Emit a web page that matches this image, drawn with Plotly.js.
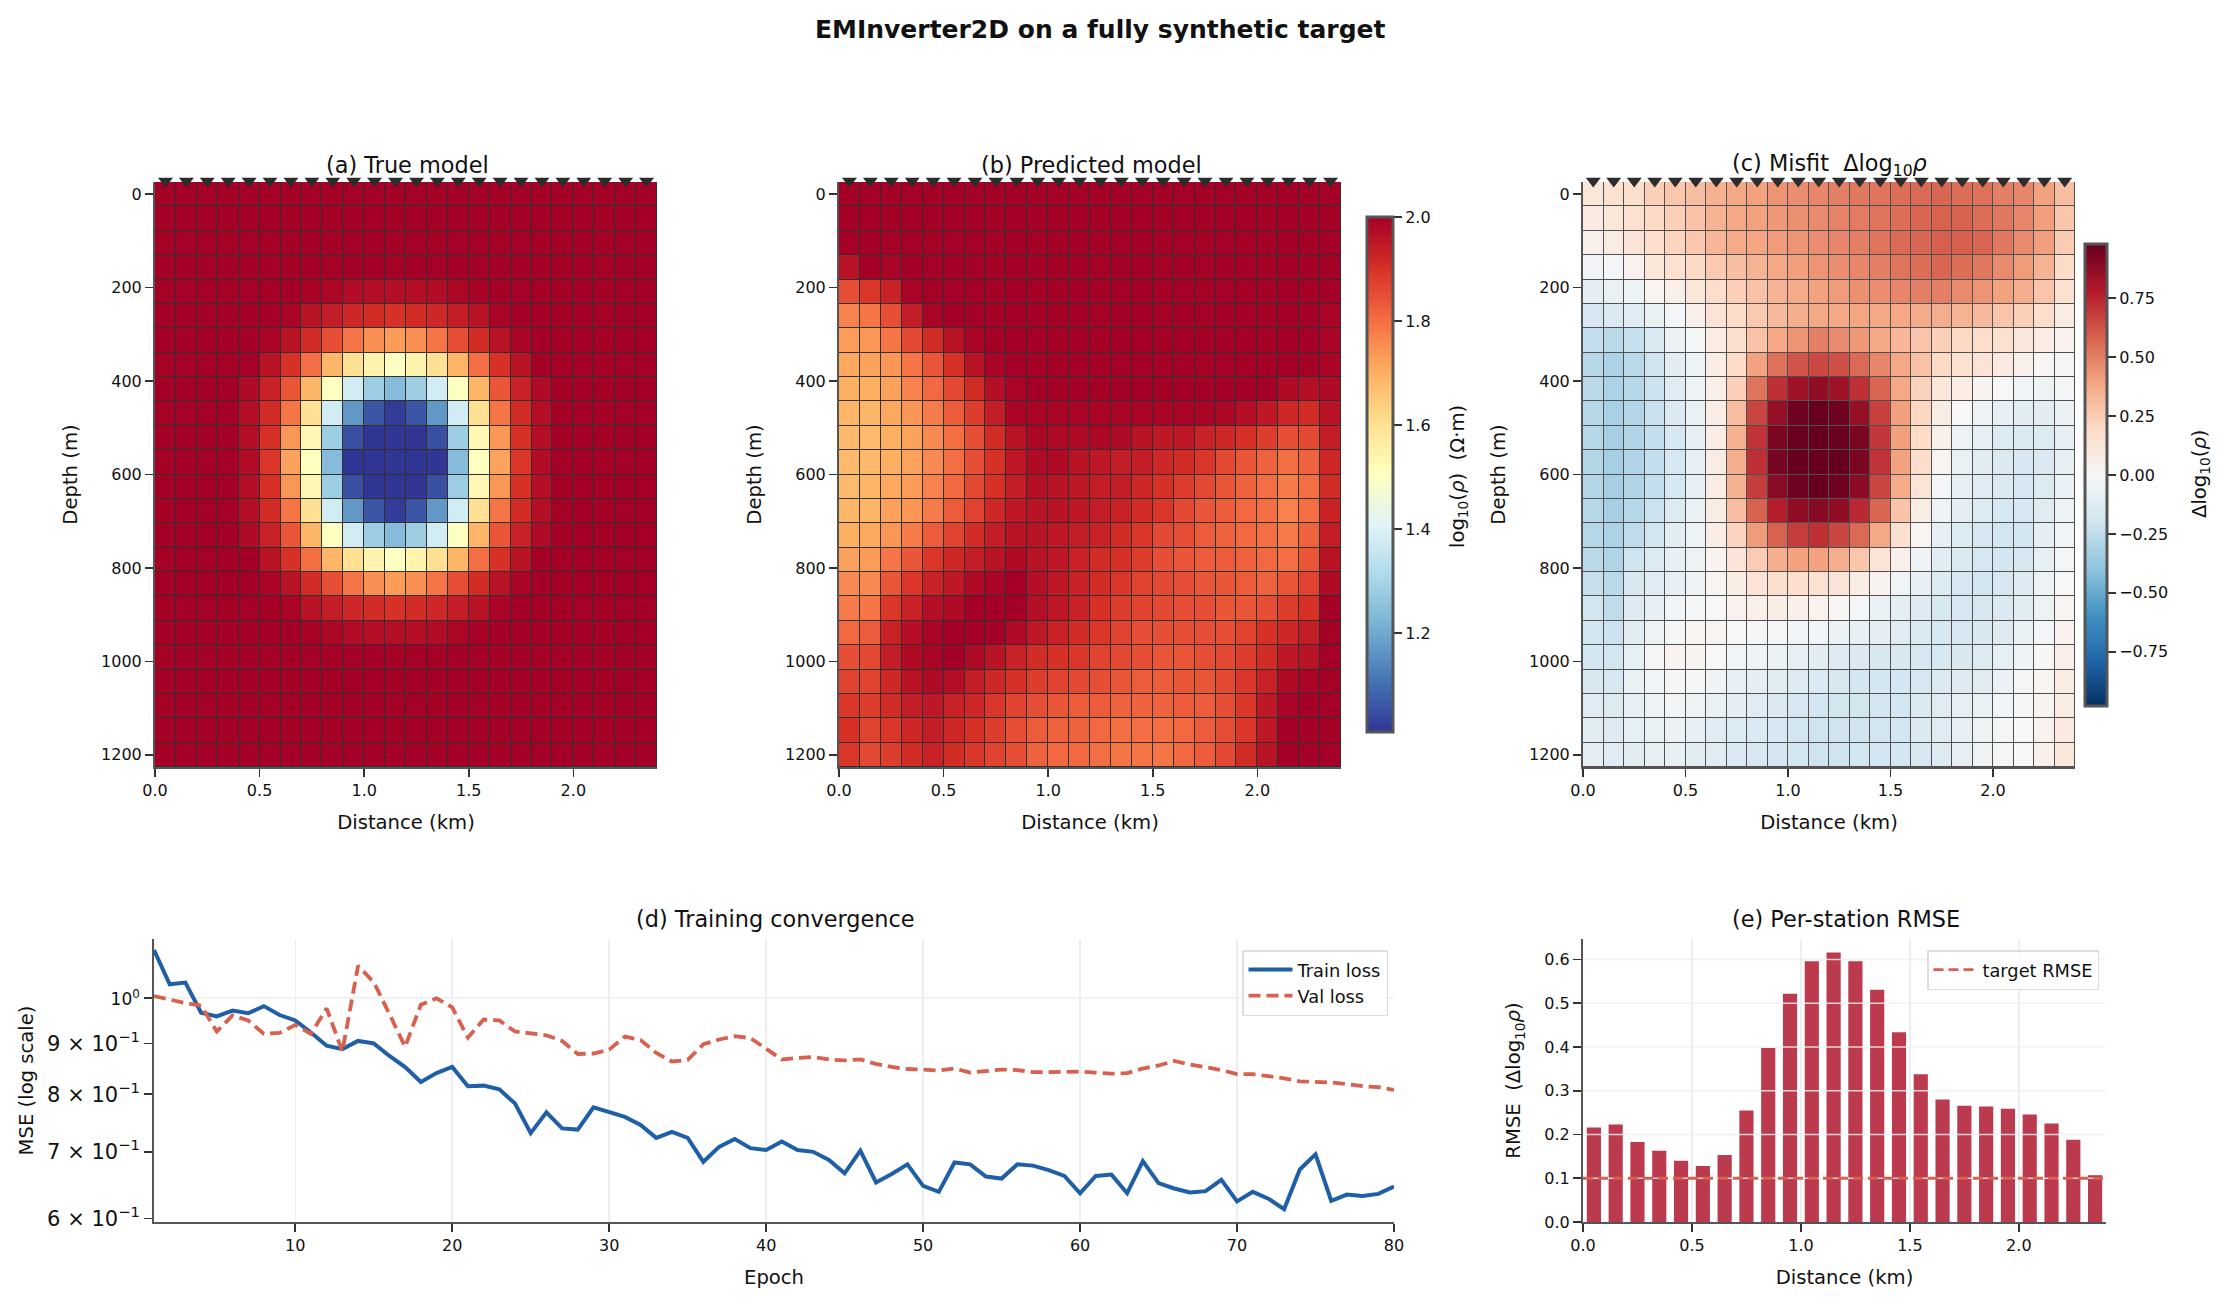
<!DOCTYPE html>
<html>
<head>
<meta charset="utf-8">
<script src="https://cdn.plot.ly/plotly-3.0.1.min.js"></script>
<style>
  html, body { margin: 0; padding: 0; background: #fff; }
</style>
</head>
<body>
<div id="chart" style="width:2230px;height:1304px;"></div>
<script>
const distanceKm = [0.05, 0.15, 0.25, 0.35, 0.45, 0.55, 0.65, 0.75, 0.85, 0.95, 1.05, 1.15,
  1.25, 1.35, 1.45, 1.55, 1.65, 1.75, 1.85, 1.95, 2.05, 2.15, 2.25, 2.35];
const depthM = [0, 52.2, 104.3, 156.5, 208.7, 260.9, 313, 365.2, 417.4, 469.6, 521.7, 573.9,
  626.1, 678.3, 730.4, 782.6, 834.8, 887, 939.1, 991.3, 1043.5, 1095.7, 1147.8, 1200];
const stationDepth = [-28, -28, -28, -28, -28, -28, -28, -28, -28, -28, -28, -28,
  -28, -28, -28, -28, -28, -28, -28, -28, -28, -28, -28, -28];

const trueModel = [
  [2, 2, 2, 2, 2, 2, 2, 2, 2, 2, 2, 2, 2, 2, 2, 2, 2, 2, 2, 2, 2, 2, 2, 2],
  [2, 2, 2, 2, 2, 2, 2, 2, 2, 2, 2, 2, 2, 2, 2, 2, 2, 2, 2, 2, 2, 2, 2, 2],
  [2, 2, 2, 2, 2, 2, 2, 2, 2, 2, 2, 2, 2, 2, 2, 2, 2, 2, 2, 2, 2, 2, 2, 2],
  [2, 2, 2, 2, 2, 2, 2, 2, 2, 2, 2, 2, 2, 2, 2, 2, 2, 2, 2, 2, 2, 2, 2, 2],
  [2, 2, 2, 2, 2, 2, 2, 1.995, 1.985, 1.975, 1.97, 1.97, 1.97, 1.975, 1.985, 1.995, 2, 2, 2, 2, 2, 2, 2, 2],
  [2, 2, 2, 2, 2, 2, 1.99, 1.96, 1.94, 1.92, 1.91, 1.9, 1.91, 1.92, 1.94, 1.96, 1.99, 2, 2, 2, 2, 2, 2, 2],
  [2, 2, 2, 2, 2, 1.99, 1.96, 1.91, 1.85, 1.79, 1.75, 1.73, 1.75, 1.79, 1.85, 1.91, 1.96, 1.99, 2, 2, 2, 2, 2, 2],
  [2, 2, 2, 2, 2, 1.96, 1.9, 1.8, 1.69, 1.6, 1.54, 1.5, 1.54, 1.6, 1.69, 1.8, 1.9, 1.96, 2, 2, 2, 2, 2, 2],
  [2, 2, 2, 2, 1.98, 1.93, 1.84, 1.69, 1.5, 1.38, 1.28, 1.24, 1.28, 1.38, 1.5, 1.69, 1.84, 1.93, 1.98, 2, 2, 2, 2, 2],
  [2, 2, 2, 2, 1.97, 1.91, 1.79, 1.6, 1.38, 1.17, 1.06, 1.02, 1.06, 1.17, 1.38, 1.6, 1.79, 1.91, 1.97, 2, 2, 2, 2, 2],
  [2, 2, 2, 2, 1.97, 1.9, 1.74, 1.53, 1.28, 1.05, 1.01, 1.01, 1.01, 1.05, 1.28, 1.53, 1.74, 1.9, 1.97, 2, 2, 2, 2, 2],
  [2, 2, 2, 2, 1.975, 1.89, 1.72, 1.505, 1.24, 1.01, 1.01, 1.01, 1.01, 1.01, 1.24, 1.505, 1.72, 1.89, 1.975, 2, 2, 2, 2, 2],
  [2, 2, 2, 2, 1.97, 1.9, 1.74, 1.53, 1.28, 1.05, 1.01, 1.01, 1.01, 1.05, 1.28, 1.53, 1.74, 1.9, 1.97, 2, 2, 2, 2, 2],
  [2, 2, 2, 2, 1.97, 1.91, 1.79, 1.6, 1.38, 1.17, 1.06, 1.02, 1.06, 1.17, 1.38, 1.6, 1.79, 1.91, 1.97, 2, 2, 2, 2, 2],
  [2, 2, 2, 2, 1.98, 1.93, 1.84, 1.69, 1.5, 1.38, 1.28, 1.24, 1.28, 1.38, 1.5, 1.69, 1.84, 1.93, 1.98, 2, 2, 2, 2, 2],
  [2, 2, 2, 2, 2, 1.96, 1.9, 1.8, 1.69, 1.6, 1.54, 1.5, 1.54, 1.6, 1.69, 1.8, 1.9, 1.96, 2, 2, 2, 2, 2, 2],
  [2, 2, 2, 2, 2, 1.99, 1.96, 1.91, 1.85, 1.79, 1.75, 1.73, 1.75, 1.79, 1.85, 1.91, 1.96, 1.99, 2, 2, 2, 2, 2, 2],
  [2, 2, 2, 2, 2, 2, 1.99, 1.96, 1.94, 1.92, 1.91, 1.9, 1.91, 1.92, 1.94, 1.96, 1.99, 2, 2, 2, 2, 2, 2, 2],
  [2, 2, 2, 2, 2, 2, 2, 1.995, 1.985, 1.975, 1.97, 1.97, 1.97, 1.975, 1.985, 1.995, 2, 2, 2, 2, 2, 2, 2, 2],
  [2, 2, 2, 2, 2, 2, 2, 2, 2, 2, 2, 2, 2, 2, 2, 2, 2, 2, 2, 2, 2, 2, 2, 2],
  [2, 2, 2, 2, 2, 2, 2, 2, 2, 2, 2, 2, 2, 2, 2, 2, 2, 2, 2, 2, 2, 2, 2, 2],
  [2, 2, 2, 2, 2, 2, 2, 2, 2, 2, 2, 2, 2, 2, 2, 2, 2, 2, 2, 2, 2, 2, 2, 2],
  [2, 2, 2, 2, 2, 2, 2, 2, 2, 2, 2, 2, 2, 2, 2, 2, 2, 2, 2, 2, 2, 2, 2, 2],
  [2, 2, 2, 2, 2, 2, 2, 2, 2, 2, 2, 2, 2, 2, 2, 2, 2, 2, 2, 2, 2, 2, 2, 2],
];

const predictedModel = [
  [2, 2, 2, 2, 2, 2, 2, 2, 2, 2, 2, 2, 2, 2, 2, 2, 2, 2, 2, 2, 2, 2, 2, 2],
  [2, 2, 2, 2, 2, 2, 2, 2, 2, 2, 2, 2, 2, 2, 2, 2, 2, 2, 2, 2, 2, 2, 2, 2],
  [2, 2, 2, 2, 2, 2, 2, 2, 2, 2, 2, 2, 2, 2, 2, 2, 2, 2, 2, 2, 2, 2, 2, 2],
  [1.96, 2, 1.99, 2, 2, 2, 2, 2, 2, 2, 2, 2, 2, 2, 2, 2, 2, 2, 2, 2, 2, 2, 2, 2],
  [1.85, 1.89, 1.93, 1.99, 2, 2, 2, 2, 2, 2, 2, 2, 2, 2, 2, 2, 2, 2, 2, 2, 2, 2, 2, 2],
  [1.77, 1.79, 1.85, 1.94, 1.99, 2, 2, 2, 2, 2, 2, 2, 2, 2, 2, 2, 2, 2, 2, 2, 2, 2, 2, 1.99],
  [1.73, 1.74, 1.79, 1.86, 1.91, 1.96, 1.99, 2, 2, 2, 2, 2, 2, 2, 2, 2, 2, 2, 2, 2, 2, 2, 2, 1.99],
  [1.71, 1.72, 1.74, 1.79, 1.84, 1.9, 1.96, 1.99, 2, 2, 2, 2, 2, 2, 2, 2, 2, 2, 2, 2, 2, 2, 2, 1.99],
  [1.7, 1.7, 1.72, 1.77, 1.81, 1.86, 1.91, 1.97, 1.99, 2, 2, 2, 2, 2, 2, 2, 2, 2, 2, 2, 2, 1.98, 1.97, 1.98],
  [1.69, 1.69, 1.71, 1.74, 1.78, 1.83, 1.88, 1.94, 1.99, 1.99, 1.99, 1.99, 1.99, 1.99, 1.99, 1.99, 1.99, 1.99, 1.985, 1.97, 1.95, 1.92, 1.91, 1.96],
  [1.68, 1.68, 1.7, 1.72, 1.76, 1.8, 1.85, 1.91, 1.96, 1.985, 1.98, 1.98, 1.985, 1.98, 1.96, 1.95, 1.95, 1.93, 1.92, 1.9, 1.88, 1.85, 1.86, 1.94],
  [1.68, 1.68, 1.7, 1.72, 1.76, 1.8, 1.85, 1.9, 1.95, 1.98, 1.98, 1.96, 1.95, 1.94, 1.94, 1.92, 1.91, 1.89, 1.86, 1.84, 1.82, 1.8, 1.82, 1.92],
  [1.68, 1.69, 1.71, 1.73, 1.77, 1.81, 1.86, 1.9, 1.94, 1.97, 1.96, 1.95, 1.94, 1.94, 1.92, 1.9, 1.88, 1.86, 1.84, 1.82, 1.8, 1.78, 1.8, 1.91],
  [1.69, 1.69, 1.72, 1.74, 1.78, 1.83, 1.87, 1.92, 1.95, 1.96, 1.96, 1.95, 1.94, 1.93, 1.91, 1.89, 1.86, 1.84, 1.83, 1.81, 1.8, 1.77, 1.8, 1.93],
  [1.7, 1.71, 1.74, 1.78, 1.83, 1.87, 1.91, 1.94, 1.96, 1.96, 1.95, 1.94, 1.93, 1.91, 1.89, 1.86, 1.85, 1.83, 1.82, 1.81, 1.8, 1.78, 1.82, 1.94],
  [1.72, 1.73, 1.79, 1.84, 1.89, 1.92, 1.94, 1.96, 1.98, 1.96, 1.95, 1.93, 1.91, 1.9, 1.88, 1.85, 1.84, 1.83, 1.83, 1.82, 1.81, 1.8, 1.84, 1.96],
  [1.76, 1.76, 1.84, 1.89, 1.93, 1.95, 1.98, 1.99, 2, 1.97, 1.95, 1.93, 1.91, 1.89, 1.87, 1.86, 1.85, 1.84, 1.84, 1.83, 1.82, 1.84, 1.87, 1.98],
  [1.78, 1.79, 1.89, 1.93, 1.97, 1.98, 2, 2, 2, 1.97, 1.95, 1.93, 1.9, 1.88, 1.87, 1.86, 1.85, 1.85, 1.84, 1.84, 1.85, 1.88, 1.9, 2],
  [1.81, 1.83, 1.93, 1.97, 1.99, 2, 2, 2, 1.98, 1.95, 1.93, 1.91, 1.89, 1.87, 1.85, 1.85, 1.85, 1.85, 1.85, 1.87, 1.9, 1.92, 1.94, 2],
  [1.85, 1.86, 1.94, 1.98, 1.99, 2, 1.98, 1.96, 1.93, 1.91, 1.9, 1.89, 1.87, 1.86, 1.85, 1.84, 1.84, 1.85, 1.86, 1.88, 1.91, 1.95, 1.96, 2],
  [1.87, 1.87, 1.92, 1.96, 1.98, 1.97, 1.94, 1.92, 1.9, 1.88, 1.87, 1.86, 1.85, 1.84, 1.83, 1.83, 1.84, 1.84, 1.86, 1.89, 1.93, 1.98, 1.99, 2],
  [1.89, 1.88, 1.91, 1.94, 1.95, 1.93, 1.92, 1.89, 1.87, 1.85, 1.84, 1.83, 1.83, 1.82, 1.82, 1.82, 1.83, 1.83, 1.85, 1.89, 1.95, 1.99, 2, 2],
  [1.9, 1.87, 1.89, 1.92, 1.94, 1.92, 1.9, 1.88, 1.85, 1.83, 1.82, 1.82, 1.81, 1.8, 1.8, 1.8, 1.81, 1.83, 1.85, 1.89, 1.95, 2, 2, 2],
  [1.89, 1.86, 1.88, 1.91, 1.93, 1.91, 1.89, 1.87, 1.85, 1.82, 1.81, 1.81, 1.8, 1.79, 1.79, 1.79, 1.81, 1.83, 1.86, 1.91, 1.96, 2, 2, 2],
];

const misfit = [
  [0.12, 0.16, 0.17, 0.24, 0.27, 0.3, 0.35, 0.38, 0.4, 0.44, 0.46, 0.48, 0.5, 0.52, 0.53, 0.55, 0.56, 0.57, 0.55, 0.54, 0.5, 0.48, 0.4, 0.3],
  [0.09, 0.12, 0.16, 0.2, 0.24, 0.29, 0.34, 0.38, 0.4, 0.43, 0.45, 0.47, 0.49, 0.51, 0.53, 0.55, 0.57, 0.58, 0.58, 0.55, 0.52, 0.48, 0.41, 0.27],
  [0.05, 0.08, 0.13, 0.18, 0.22, 0.27, 0.33, 0.37, 0.39, 0.42, 0.44, 0.46, 0.48, 0.5, 0.53, 0.56, 0.57, 0.59, 0.59, 0.57, 0.52, 0.47, 0.41, 0.25],
  [-0.03, -0.01, 0.04, 0.12, 0.16, 0.2, 0.26, 0.3, 0.34, 0.38, 0.41, 0.44, 0.46, 0.48, 0.5, 0.53, 0.55, 0.57, 0.55, 0.52, 0.47, 0.42, 0.34, 0.19],
  [-0.1, -0.07, -0.05, 0.02, 0.06, 0.12, 0.18, 0.24, 0.29, 0.34, 0.37, 0.4, 0.42, 0.45, 0.46, 0.48, 0.5, 0.5, 0.47, 0.44, 0.4, 0.36, 0.28, 0.16],
  [-0.17, -0.15, -0.12, -0.07, -0.01, 0.05, 0.13, 0.19, 0.26, 0.32, 0.36, 0.38, 0.38, 0.39, 0.38, 0.38, 0.37, 0.36, 0.34, 0.32, 0.28, 0.24, 0.18, 0.08],
  [-0.24, -0.27, -0.23, -0.15, -0.06, -0.02, 0.08, 0.17, 0.29, 0.38, 0.44, 0.5, 0.47, 0.43, 0.38, 0.33, 0.28, 0.24, 0.2, 0.18, 0.16, 0.11, 0.07, 0.04],
  [-0.28, -0.31, -0.27, -0.2, -0.11, -0.05, 0.07, 0.19, 0.4, 0.54, 0.62, 0.65, 0.63, 0.56, 0.48, 0.38, 0.29, 0.2, 0.15, 0.13, 0.09, 0.05, 0.01, -0.02],
  [-0.27, -0.31, -0.28, -0.21, -0.12, -0.05, 0.06, 0.24, 0.53, 0.72, 0.83, 0.87, 0.83, 0.72, 0.57, 0.38, 0.23, 0.12, 0.07, 0.03, 0, -0.03, -0.05, -0.02],
  [-0.28, -0.32, -0.29, -0.22, -0.15, -0.07, 0.07, 0.31, 0.66, 0.86, 0.96, 0.98, 0.96, 0.86, 0.67, 0.41, 0.21, 0.08, 0, -0.05, -0.08, -0.11, -0.11, -0.06],
  [-0.28, -0.33, -0.3, -0.24, -0.17, -0.08, 0.07, 0.35, 0.71, 0.93, 0.97, 0.98, 0.97, 0.93, 0.7, 0.41, 0.19, 0.05, -0.05, -0.09, -0.14, -0.15, -0.14, -0.08],
  [-0.29, -0.33, -0.3, -0.24, -0.17, -0.09, 0.08, 0.36, 0.72, 0.94, 0.98, 0.98, 0.98, 0.93, 0.71, 0.4, 0.18, 0.02, -0.07, -0.11, -0.15, -0.16, -0.15, -0.09],
  [-0.29, -0.33, -0.3, -0.24, -0.17, -0.08, 0.08, 0.35, 0.68, 0.89, 0.96, 0.98, 0.96, 0.88, 0.66, 0.37, 0.14, -0.02, -0.09, -0.12, -0.15, -0.17, -0.14, -0.07],
  [-0.28, -0.33, -0.28, -0.21, -0.14, -0.07, 0.08, 0.3, 0.58, 0.77, 0.87, 0.9, 0.87, 0.74, 0.57, 0.28, 0.08, -0.05, -0.1, -0.14, -0.17, -0.17, -0.12, -0.05],
  [-0.28, -0.31, -0.25, -0.18, -0.11, -0.05, 0.07, 0.22, 0.42, 0.58, 0.68, 0.72, 0.66, 0.56, 0.38, 0.16, 0.02, -0.08, -0.14, -0.17, -0.19, -0.18, -0.1, -0.03],
  [-0.27, -0.3, -0.2, -0.14, -0.08, -0.05, 0.03, 0.13, 0.25, 0.36, 0.4, 0.4, 0.36, 0.27, 0.14, 0.05, -0.04, -0.11, -0.15, -0.17, -0.18, -0.16, -0.08, -0.02],
  [-0.23, -0.27, -0.16, -0.12, -0.08, -0.04, 0.02, 0.08, 0.13, 0.17, 0.17, 0.16, 0.13, 0.07, 0.03, -0.03, -0.08, -0.14, -0.17, -0.18, -0.17, -0.13, -0.05, 0],
  [-0.19, -0.25, -0.13, -0.09, -0.03, -0.02, 0, 0.04, 0.06, 0.07, 0.05, 0.04, 0.01, -0.02, -0.07, -0.1, -0.13, -0.16, -0.17, -0.17, -0.15, -0.11, -0.05, 0.02],
  [-0.19, -0.21, -0.11, -0.05, -0.01, 0.02, 0.02, 0, -0.01, -0.02, -0.03, -0.03, -0.06, -0.08, -0.1, -0.12, -0.15, -0.17, -0.17, -0.16, -0.13, -0.07, -0.02, 0.04],
  [-0.18, -0.19, -0.08, -0.02, 0.03, 0.03, 0, -0.03, -0.05, -0.07, -0.09, -0.11, -0.13, -0.15, -0.16, -0.16, -0.17, -0.17, -0.16, -0.14, -0.09, -0.04, 0.01, 0.06],
  [-0.16, -0.17, -0.07, -0.03, -0.01, -0.02, -0.04, -0.08, -0.1, -0.11, -0.13, -0.15, -0.16, -0.18, -0.18, -0.18, -0.17, -0.15, -0.13, -0.11, -0.06, -0.02, 0.02, 0.07],
  [-0.12, -0.14, -0.08, -0.05, -0.03, -0.05, -0.07, -0.1, -0.12, -0.15, -0.17, -0.18, -0.19, -0.19, -0.18, -0.18, -0.15, -0.12, -0.09, -0.07, -0.03, -0.01, 0.03, 0.08],
  [-0.11, -0.13, -0.09, -0.07, -0.06, -0.08, -0.12, -0.14, -0.15, -0.17, -0.19, -0.2, -0.2, -0.2, -0.19, -0.18, -0.15, -0.12, -0.09, -0.05, -0.02, 0, 0.04, 0.09],
  [-0.1, -0.12, -0.11, -0.09, -0.08, -0.11, -0.12, -0.15, -0.16, -0.18, -0.19, -0.2, -0.2, -0.19, -0.18, -0.18, -0.16, -0.13, -0.09, -0.04, -0.02, 0, 0.05, 0.11],
];

const epochs = [1, 2, 3, 4, 5, 6, 7, 8, 9, 10, 11, 12, 13, 14, 15, 16, 17, 18, 19, 20,
  21, 22, 23, 24, 25, 26, 27, 28, 29, 30, 31, 32, 33, 34, 35, 36, 37, 38, 39, 40,
  41, 42, 43, 44, 45, 46, 47, 48, 49, 50, 51, 52, 53, 54, 55, 56, 57, 58, 59, 60,
  61, 62, 63, 64, 65, 66, 67, 68, 69, 70, 71, 72, 73, 74, 75, 76, 77, 78, 79, 80];
const trainLoss = [1.117, 1.032, 1.036, 0.966, 0.958, 0.971, 0.965, 0.981, 0.961, 0.949,
  0.923, 0.895, 0.888, 0.905, 0.9, 0.874, 0.852, 0.823, 0.84, 0.852,
  0.815, 0.816, 0.809, 0.783, 0.731, 0.767, 0.739, 0.737, 0.776, 0.768,
  0.759, 0.745, 0.723, 0.733, 0.723, 0.684, 0.708, 0.721, 0.706, 0.703,
  0.717, 0.703, 0.7, 0.687, 0.666, 0.702, 0.652, 0.665, 0.68, 0.647,
  0.638, 0.683, 0.68, 0.661, 0.658, 0.68, 0.678, 0.671, 0.662, 0.636,
  0.662, 0.664, 0.636, 0.685, 0.651, 0.643, 0.637, 0.639, 0.656, 0.624,
  0.638, 0.628, 0.613, 0.672, 0.696, 0.625, 0.634, 0.632, 0.635, 0.646];
const valLoss = [1.004, 0.995, 0.988, 0.982, 0.925, 0.96, 0.949, 0.92, 0.922, 0.939,
  0.92, 0.976, 0.883, 1.077, 1.037, 0.963, 0.893, 0.984, 0.999, 0.978,
  0.912, 0.951, 0.949, 0.925, 0.922, 0.917, 0.905, 0.878, 0.879, 0.887,
  0.914, 0.907, 0.88, 0.863, 0.866, 0.898, 0.908, 0.915, 0.911, 0.889,
  0.867, 0.87, 0.872, 0.867, 0.865, 0.867, 0.858, 0.852, 0.848, 0.847,
  0.845, 0.849, 0.841, 0.844, 0.847, 0.846, 0.842, 0.842, 0.842, 0.843,
  0.841, 0.839, 0.84, 0.849, 0.855, 0.864, 0.857, 0.851, 0.846, 0.838,
  0.838, 0.834, 0.83, 0.824, 0.823, 0.822, 0.819, 0.815, 0.813, 0.808];

const stationRmse = [0.216, 0.223, 0.183, 0.163, 0.14, 0.128, 0.153, 0.255, 0.398, 0.522, 0.596, 0.616,
  0.596, 0.531, 0.434, 0.338, 0.28, 0.266, 0.264, 0.259, 0.246, 0.225, 0.188, 0.107];
const targetRmse = 0.1;

const rmseGridTicks = [0.1, 0.2, 0.3, 0.4, 0.5, 0.6];
const lossTicks = [0.6, 0.7, 0.8, 0.9, 1];
const lossTickText = [
  "6 × 10<sup>−1</sup>", "7 × 10<sup>−1</sup>", "8 × 10<sup>−1</sup>", "9 × 10<sup>−1</sup>",
  "<span style=\"font-size:17px\">10<sup>0</sup></span>",
];

const rdYlBuR = [
  [0, "#313695"], [0.1, "#4575b4"], [0.2, "#74add1"], [0.3, "#abd9e9"], [0.4, "#e0f3f8"], [0.5, "#ffffbf"],
  [0.6, "#fee090"], [0.7, "#fdae61"], [0.8, "#f46d43"], [0.9, "#d73027"], [1, "#a50026"],
];
const rdBuR = [
  [0, "#053061"], [0.1, "#2166ac"], [0.2, "#4393c3"], [0.3, "#92c5de"], [0.4, "#d1e5f0"], [0.5, "#f7f7f7"],
  [0.6, "#fddbc7"], [0.7, "#f4a582"], [0.8, "#d6604d"], [0.9, "#b2182b"], [1, "#67001f"],
];

const W = 2230;
const H = 1304;
const FONT = "DejaVu Sans";
const SPINE = "#555555";
const TICK_COLOR = "#333333";
const GRID = "#eeeeee";
const TRAIN_COLOR = "#1f5fa8";
const VAL_COLOR = "#d8604e";
const LABEL_SIZE = 19.6;

// Panel boxes in pixels of the page.
const domX = (a, b) => [a / W, b / W];
const domY = (top, bottom) => [1 - bottom / H, 1 - top / H];
const MODEL_TOP = 182;
const MODEL_BOTTOM = 767;
const DEPTH_RANGE = [1226, -26];

const baseAxis = {
  showline: true,
  linecolor: SPINE,
  linewidth: 2,
  ticks: "outside",
  ticklen: 8,
  tickwidth: 1.6,
  tickcolor: TICK_COLOR,
  zeroline: false,
  showgrid: false,
  tickfont: { family: FONT, size: 16, color: "#111" },
};

const axisTitle = (text, standoff) => ({
  text: text,
  standoff: standoff,
  font: { family: FONT, size: LABEL_SIZE, color: "#111" },
});

const modelXAxis = (x0, x1, anchor) => ({
  ...baseAxis,
  anchor: anchor,
  domain: domX(x0, x1),
  range: [0, 2.4],
  tickvals: [0, 0.5, 1, 1.5, 2],
  tickformat: ".1f",
  title: axisTitle("Distance (km)", 16),
});

const modelYAxis = (anchor) => ({
  ...baseAxis,
  anchor: anchor,
  domain: domY(MODEL_TOP, MODEL_BOTTOM),
  range: DEPTH_RANGE,
  tickvals: [0, 200, 400, 600, 800, 1000, 1200],
  title: axisTitle("Depth (m)", 18),
});

// Hidden axes over a model panel, same depth scale but 10 px taller, because points
// outside the range are not drawn and the station markers sit above the top edge.
const stationXAxis = (x0, x1, anchor) => ({
  anchor: anchor,
  domain: domX(x0, x1),
  range: [0, 2.4],
  visible: false,
});
const stationYAxis = (anchor) => ({
  anchor: anchor,
  domain: domY(MODEL_TOP - 10, MODEL_BOTTOM),
  range: [1226, -47.4],
  visible: false,
});

const heatmap = (z, xa, ya, scale, zmin, zmax, colorbar) => ({
  type: "heatmap",
  x: distanceKm,
  y: depthM,
  z: z,
  xaxis: xa,
  yaxis: ya,
  colorscale: scale,
  zmin: zmin,
  zmax: zmax,
  xgap: 1,
  ygap: 1,
  showscale: !!colorbar,
  colorbar: colorbar,
  hoverinfo: "skip",
});

const stations = (xa, ya) => ({
  type: "scatter",
  mode: "markers",
  x: distanceKm,
  y: stationDepth,
  xaxis: xa,
  yaxis: ya,
  cliponaxis: false,
  showlegend: false,
  hoverinfo: "skip",
  marker: { symbol: "triangle-down", size: 13, color: "#2c2c2c" },
});

const colorbarBase = {
  thicknessmode: "pixels",
  lenmode: "fraction",
  xanchor: "left",
  yanchor: "top",
  xpad: 0,
  ypad: 0,
  outlinecolor: SPINE,
  outlinewidth: 3,
  ticks: "outside",
  ticklen: 8,
  tickwidth: 1.6,
  tickcolor: TICK_COLOR,
  tickfont: { family: FONT, size: 16, color: "#111" },
};

const colorbarB = {
  ...colorbarBase,
  x: 1367 / W,
  y: 1 - 217 / H,
  thickness: 26,
  len: (732 - 217) / H,
  tickvals: [1.2, 1.4, 1.6, 1.8, 2.0],
  tickformat: ".1f",
};

const colorbarC = {
  ...colorbarBase,
  x: 2085 / W,
  y: 1 - 244 / H,
  thickness: 22,
  len: (706 - 244) / H,
  tickvals: [-0.75, -0.5, -0.25, 0, 0.25, 0.5, 0.75],
  tickformat: ".2f",
};

const gridTraceX = [];
const gridTraceY = [];
rmseGridTicks.forEach((t) => {
  gridTraceX.push(0, 2.4, null);
  gridTraceY.push(t, t, null);
});

const traces = [
  heatmap(trueModel, "x", "y", rdYlBuR, 1.01, 2.0, null),
  stations("x6", "y6"),
  heatmap(predictedModel, "x2", "y2", rdYlBuR, 1.01, 2.0, colorbarB),
  stations("x7", "y7"),
  heatmap(misfit, "x3", "y3", rdBuR, -0.98, 0.98, colorbarC),
  stations("x8", "y8"),
  {
    type: "scatter", mode: "lines", x: [1, 80], y: [1, 1], xaxis: "x4", yaxis: "y4",
    line: { color: GRID, width: 1.5 }, showlegend: false, hoverinfo: "skip",
  },
  {
    type: "scatter", mode: "lines", name: "Train loss", x: epochs, y: trainLoss, xaxis: "x4", yaxis: "y4",
    line: { color: TRAIN_COLOR, width: 4 }, legend: "legend",
  },
  {
    type: "scatter", mode: "lines", name: "Val loss", x: epochs, y: valLoss, xaxis: "x4", yaxis: "y4",
    line: { color: VAL_COLOR, width: 3.8, dash: "12px,6px" }, legend: "legend",
  },
  {
    type: "bar", x: distanceKm, y: stationRmse, xaxis: "x5", yaxis: "y5", width: 0.065,
    marker: { color: "#bc3a4e" }, showlegend: false, hoverinfo: "skip",
  },
  {
    type: "scatter", mode: "lines", x: gridTraceX, y: gridTraceY, xaxis: "x5", yaxis: "y5",
    line: { color: "rgba(238,238,238,0.85)", width: 1.5 }, showlegend: false, hoverinfo: "skip",
  },
  {
    type: "scatter", mode: "lines", name: "target RMSE", x: [0, 2.4], y: [targetRmse, targetRmse], xaxis: "x5", yaxis: "y5",
    line: { color: VAL_COLOR, width: 2.8, dash: "10px,5px" }, legend: "legend2",
  },
];

const note = (text, x, y, size, angle) => ({
  text: text, x: x / W, y: 1 - y / H, xref: "paper", yref: "paper",
  xanchor: "center", yanchor: "middle", showarrow: false, textangle: angle || 0,
  font: { family: FONT, size: size, color: "#111" },
});

const cellBackground = (xa, ya, color) => ({
  type: "rect", layer: "below", xref: xa, yref: ya,
  x0: 0, x1: 2.4, y0: -26, y1: 1226,
  fillcolor: color, line: { width: 0 },
});

const legendBox = (x) => ({
  x: x / W, y: 1 - 950 / H, xanchor: "right", yanchor: "top",
  bgcolor: "rgba(255,255,255,0.85)", bordercolor: "#dddddd", borderwidth: 1.5,
  itemwidth: 44,
  font: { family: FONT, size: 17.8, color: "#111" },
});

const layout = {
  width: W,
  height: H,
  margin: { l: 0, r: 0, t: 0, b: 0 },
  paper_bgcolor: "#ffffff",
  plot_bgcolor: "rgba(0,0,0,0)",
  font: { family: FONT, color: "#111" },
  xaxis: modelXAxis(155, 657, "y"),
  yaxis: modelYAxis("x"),
  xaxis2: modelXAxis(839, 1341, "y2"),
  yaxis2: modelYAxis("x2"),
  xaxis3: modelXAxis(1583, 2075, "y3"),
  yaxis3: modelYAxis("x3"),
  xaxis6: stationXAxis(155, 657, "y6"),
  yaxis6: stationYAxis("x6"),
  xaxis7: stationXAxis(839, 1341, "y7"),
  yaxis7: stationYAxis("x7"),
  xaxis8: stationXAxis(1583, 2075, "y8"),
  yaxis8: stationYAxis("x8"),
  xaxis4: {
    ...baseAxis,
    anchor: "y4",
    domain: domX(154, 1394),
    range: [1, 80],
    tickvals: [10, 20, 30, 40, 50, 60, 70, 80],
    showgrid: true,
    gridcolor: GRID,
    gridwidth: 1.5,
    title: axisTitle("Epoch", 16),
  },
  yaxis4: {
    ...baseAxis,
    anchor: "x4",
    domain: domY(939, 1222),
    type: "log",
    range: [-0.2255, 0.0592],
    tickvals: lossTicks,
    ticktext: lossTickText,
    tickfont: { family: FONT, size: 21, color: "#111" },
    title: axisTitle("MSE (log scale)", 8),
  },
  xaxis5: {
    ...baseAxis,
    anchor: "y5",
    domain: domX(1583, 2106),
    range: [0, 2.4],
    tickvals: [0, 0.5, 1, 1.5, 2],
    tickformat: ".1f",
    showgrid: true,
    gridcolor: GRID,
    gridwidth: 1.5,
    title: axisTitle("Distance (km)", 16),
  },
  yaxis5: {
    ...baseAxis,
    anchor: "x5",
    domain: domY(939, 1222),
    range: [0, 0.647],
    tickvals: [0, 0.1, 0.2, 0.3, 0.4, 0.5, 0.6],
    tickformat: ".1f",
    title: axisTitle("RMSE\u00a0\u00a0(Δlog<sub>10</sub><i>ρ</i>)", 18),
  },
  legend: legendBox(1388),
  legend2: legendBox(2099),
  shapes: [
    cellBackground("x", "y", "#303030"),
    cellBackground("x2", "y2", "#303030"),
    cellBackground("x3", "y3", "#505050"),
  ],
  annotations: [
    note("<b>EMInverter2D on a fully synthetic target</b>", 1100, 29, 25),
    note("(a) True model", 407, 165, 22.4),
    note("(b) Predicted model", 1091, 165, 22.4),
    note("(c) Misfit\u00a0\u00a0Δlog<sub>10</sub><i>ρ</i>", 1829, 165, 22.4),
    note("(d) Training convergence", 775, 919, 22.4),
    note("(e) Per-station RMSE", 1846, 919, 22.4),
    note("log<sub>10</sub>(<i>ρ</i>)\u00a0\u00a0(Ω·m)", 1458, 477, LABEL_SIZE, -90),
    note("Δlog<sub>10</sub>(<i>ρ</i>)", 2200, 474, LABEL_SIZE, -90),
  ],
  showlegend: true,
};

Plotly.newPlot("chart", traces, layout, { displayModeBar: false, staticPlot: true });
</script>
</body>
</html>
